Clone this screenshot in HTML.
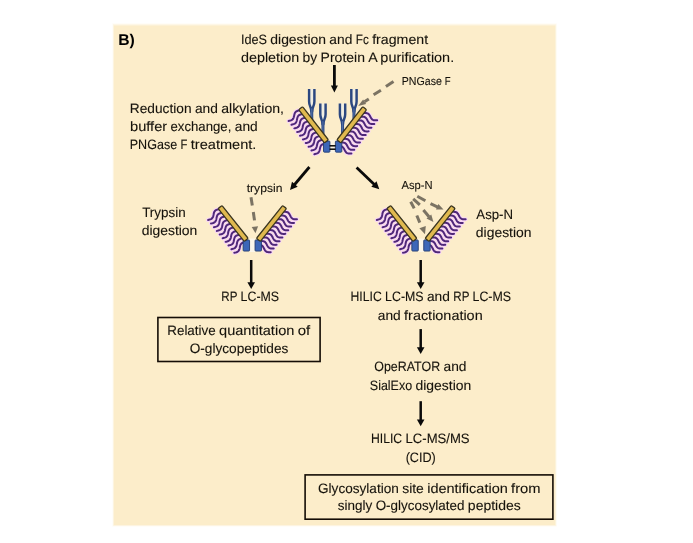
<!DOCTYPE html>
<html lang="en">
<head>
<meta charset="utf-8">
<title>Workflow B</title>
<style>
html,body{margin:0;padding:0;background:#fff;}
body{width:693px;height:543px;overflow:hidden;}
svg{display:block;font-family:"Liberation Sans",sans-serif;will-change:transform;text-rendering:geometricPrecision;}
</style>
</head>
<body>
<svg width="693" height="543" viewBox="0 0 693 543">
<rect x="0" y="0" width="693" height="543" fill="#ffffff"/>
<rect x="112.5" y="23.4" width="444.2" height="503.2" fill="#fcedca" opacity="0.22"/>
<rect x="113.1" y="24.3" width="443.0" height="501.6" fill="#fcedca" opacity="0.4"/>
<rect x="113.8" y="25.5" width="441.5" height="499.6" fill="#fcedca"/>
<g>
<text x="118.2" y="44.6" font-size="15.6" font-weight="bold" fill="#000" textLength="16.6" lengthAdjust="spacingAndGlyphs">B)</text>
<text y="44.30" font-size="13.58" font-weight="normal" fill="#15120b" stroke="#15120b" stroke-width="0.1"><tspan x="240.92" textLength="26.02" lengthAdjust="spacingAndGlyphs">IdeS</tspan> <tspan x="270.32" textLength="55.68" lengthAdjust="spacingAndGlyphs">digestion</tspan> <tspan x="329.39" textLength="22.95" lengthAdjust="spacingAndGlyphs">and</tspan> <tspan x="355.73" textLength="13.03" lengthAdjust="spacingAndGlyphs">Fc</tspan> <tspan x="372.15" textLength="55.96" lengthAdjust="spacingAndGlyphs">fragment</tspan></text>
<text y="62.20" font-size="13.58" font-weight="normal" fill="#15120b" stroke="#15120b" stroke-width="0.1"><tspan x="240.94" textLength="58.31" lengthAdjust="spacingAndGlyphs">depletion</tspan> <tspan x="302.64" textLength="14.60" lengthAdjust="spacingAndGlyphs">by</tspan> <tspan x="320.63" textLength="44.30" lengthAdjust="spacingAndGlyphs">Protein</tspan> <tspan x="368.31" textLength="8.68" lengthAdjust="spacingAndGlyphs">A</tspan> <tspan x="380.38" textLength="73.76" lengthAdjust="spacingAndGlyphs">purification.</tspan></text>
<text y="84.70" font-size="11.49" font-weight="normal" fill="#15120b" stroke="#15120b" stroke-width="0.1"><tspan x="401.76" textLength="40.14" lengthAdjust="spacingAndGlyphs">PNGase</tspan> <tspan x="444.77" textLength="5.84" lengthAdjust="spacingAndGlyphs">F</tspan></text>
<text y="113.00" font-size="13.58" font-weight="normal" fill="#15120b" stroke="#15120b" stroke-width="0.1"><tspan x="129.84" textLength="61.71" lengthAdjust="spacingAndGlyphs">Reduction</tspan> <tspan x="194.94" textLength="22.95" lengthAdjust="spacingAndGlyphs">and</tspan> <tspan x="221.28" textLength="62.73" lengthAdjust="spacingAndGlyphs">alkylation,</tspan></text>
<text y="130.70" font-size="13.58" font-weight="normal" fill="#15120b" stroke="#15120b" stroke-width="0.1"><tspan x="130.04" textLength="37.09" lengthAdjust="spacingAndGlyphs">buffer</tspan> <tspan x="170.52" textLength="60.83" lengthAdjust="spacingAndGlyphs">exchange,</tspan> <tspan x="234.74" textLength="22.95" lengthAdjust="spacingAndGlyphs">and</tspan></text>
<text y="148.60" font-size="13.58" font-weight="normal" fill="#15120b" stroke="#15120b" stroke-width="0.1"><tspan x="129.76" textLength="47.41" lengthAdjust="spacingAndGlyphs">PNGase</tspan> <tspan x="180.56" textLength="6.89" lengthAdjust="spacingAndGlyphs">F</tspan> <tspan x="190.84" textLength="65.59" lengthAdjust="spacingAndGlyphs">treatment.</tspan></text>
<text y="192.10" font-size="11.49" font-weight="normal" fill="#15120b" stroke="#15120b" stroke-width="0.1"><tspan x="246.71" textLength="35.66" lengthAdjust="spacingAndGlyphs">trypsin</tspan></text>
<text y="188.90" font-size="11.49" font-weight="normal" fill="#15120b" stroke="#15120b" stroke-width="0.1"><tspan x="401.48" textLength="31.08" lengthAdjust="spacingAndGlyphs">Asp-N</tspan></text>
<text y="217.00" font-size="13.58" font-weight="normal" fill="#15120b" stroke="#15120b" stroke-width="0.1"><tspan x="142.16" textLength="43.47" lengthAdjust="spacingAndGlyphs">Trypsin</tspan></text>
<text y="235.00" font-size="13.58" font-weight="normal" fill="#15120b" stroke="#15120b" stroke-width="0.1"><tspan x="141.65" textLength="55.68" lengthAdjust="spacingAndGlyphs">digestion</tspan></text>
<text y="219.20" font-size="13.58" font-weight="normal" fill="#15120b" stroke="#15120b" stroke-width="0.1"><tspan x="476.34" textLength="36.70" lengthAdjust="spacingAndGlyphs">Asp-N</tspan></text>
<text y="236.80" font-size="13.58" font-weight="normal" fill="#15120b" stroke="#15120b" stroke-width="0.1"><tspan x="475.85" textLength="55.68" lengthAdjust="spacingAndGlyphs">digestion</tspan></text>
<text y="301.40" font-size="13.58" font-weight="normal" fill="#15120b" stroke="#15120b" stroke-width="0.1"><tspan x="221.33" textLength="15.90" lengthAdjust="spacingAndGlyphs">RP</tspan> <tspan x="240.61" textLength="38.45" lengthAdjust="spacingAndGlyphs">LC-MS</tspan></text>
<text y="335.40" font-size="13.58" font-weight="normal" fill="#15120b" stroke="#15120b" stroke-width="0.1"><tspan x="167.28" textLength="48.39" lengthAdjust="spacingAndGlyphs">Relative</tspan> <tspan x="219.06" textLength="75.30" lengthAdjust="spacingAndGlyphs">quantitation</tspan> <tspan x="297.75" textLength="12.49" lengthAdjust="spacingAndGlyphs">of</tspan></text>
<text y="353.10" font-size="13.58" font-weight="normal" fill="#15120b" stroke="#15120b" stroke-width="0.1"><tspan x="189.71" textLength="98.59" lengthAdjust="spacingAndGlyphs">O-glycopeptides</tspan></text>
<text y="301.40" font-size="13.58" font-weight="normal" fill="#15120b" stroke="#15120b" stroke-width="0.1"><tspan x="350.51" textLength="31.21" lengthAdjust="spacingAndGlyphs">HILIC</tspan> <tspan x="385.11" textLength="38.45" lengthAdjust="spacingAndGlyphs">LC-MS</tspan> <tspan x="426.95" textLength="22.95" lengthAdjust="spacingAndGlyphs">and</tspan> <tspan x="453.29" textLength="15.90" lengthAdjust="spacingAndGlyphs">RP</tspan> <tspan x="472.58" textLength="38.45" lengthAdjust="spacingAndGlyphs">LC-MS</tspan></text>
<text y="319.50" font-size="13.58" font-weight="normal" fill="#15120b" stroke="#15120b" stroke-width="0.1"><tspan x="377.75" textLength="22.95" lengthAdjust="spacingAndGlyphs">and</tspan> <tspan x="404.09" textLength="78.59" lengthAdjust="spacingAndGlyphs">fractionation</tspan></text>
<text y="371.40" font-size="13.58" font-weight="normal" fill="#15120b" stroke="#15120b" stroke-width="0.1"><tspan x="374.25" textLength="65.89" lengthAdjust="spacingAndGlyphs">OpeRATOR</tspan> <tspan x="443.53" textLength="22.95" lengthAdjust="spacingAndGlyphs">and</tspan></text>
<text y="389.70" font-size="13.58" font-weight="normal" fill="#15120b" stroke="#15120b" stroke-width="0.1"><tspan x="369.84" textLength="42.29" lengthAdjust="spacingAndGlyphs">SialExo</tspan> <tspan x="415.52" textLength="55.68" lengthAdjust="spacingAndGlyphs">digestion</tspan></text>
<text y="443.30" font-size="13.58" font-weight="normal" fill="#15120b" stroke="#15120b" stroke-width="0.1"><tspan x="370.99" textLength="31.21" lengthAdjust="spacingAndGlyphs">HILIC</tspan> <tspan x="405.59" textLength="63.97" lengthAdjust="spacingAndGlyphs">LC-MS/MS</tspan></text>
<text y="461.60" font-size="13.58" font-weight="normal" fill="#15120b" stroke="#15120b" stroke-width="0.1"><tspan x="405.67" textLength="30.10" lengthAdjust="spacingAndGlyphs">(CID)</tspan></text>
<text y="492.50" font-size="13.58" font-weight="normal" fill="#15120b" stroke="#15120b" stroke-width="0.1"><tspan x="318.03" textLength="80.77" lengthAdjust="spacingAndGlyphs">Glycosylation</tspan> <tspan x="402.19" textLength="21.64" lengthAdjust="spacingAndGlyphs">site</tspan> <tspan x="427.21" textLength="80.54" lengthAdjust="spacingAndGlyphs">identification</tspan> <tspan x="511.14" textLength="29.46" lengthAdjust="spacingAndGlyphs">from</tspan></text>
<text y="510.10" font-size="13.58" font-weight="normal" fill="#15120b" stroke="#15120b" stroke-width="0.1"><tspan x="337.79" textLength="34.48" lengthAdjust="spacingAndGlyphs">singly</tspan> <tspan x="375.66" textLength="88.84" lengthAdjust="spacingAndGlyphs">O-glycosylated</tspan> <tspan x="467.89" textLength="52.84" lengthAdjust="spacingAndGlyphs">peptides</tspan></text>
</g>
<rect x="157.9" y="317.5" width="162.2" height="44.0" fill="none" stroke="#140d06" stroke-width="1.6"/>
<rect x="305.1" y="474.9" width="247.8" height="44.3" fill="none" stroke="#140d06" stroke-width="1.6"/>
<line x1="334.4" y1="65.0" x2="334.4" y2="86.6" stroke="#0a0a0a" stroke-width="2.8"/><polygon points="334.4,92.6 330.9,85.6 337.9,85.6" fill="#0a0a0a"/>
<line x1="309.4" y1="167.0" x2="294.2" y2="185.0" stroke="#0a0a0a" stroke-width="2.8"/><polygon points="290.0,190.0 292.0,181.8 297.7,186.7" fill="#0a0a0a"/>
<line x1="356.6" y1="167.4" x2="374.6" y2="184.7" stroke="#0a0a0a" stroke-width="2.8"/><polygon points="379.3,189.2 371.3,186.7 376.5,181.3" fill="#0a0a0a"/>
<line x1="251.2" y1="260.0" x2="251.2" y2="283.2" stroke="#0a0a0a" stroke-width="2.5"/><polygon points="251.2,289.0 247.4,282.2 255.0,282.2" fill="#0a0a0a"/>
<line x1="420.7" y1="260.0" x2="420.7" y2="283.2" stroke="#0a0a0a" stroke-width="2.5"/><polygon points="420.7,289.0 416.9,282.2 424.5,282.2" fill="#0a0a0a"/>
<line x1="420.7" y1="329.1" x2="420.7" y2="348.3" stroke="#0a0a0a" stroke-width="2.5"/><polygon points="420.7,354.1 416.9,347.3 424.5,347.3" fill="#0a0a0a"/>
<line x1="420.7" y1="401.2" x2="420.7" y2="420.5" stroke="#0a0a0a" stroke-width="2.5"/><polygon points="420.7,426.3 416.9,419.5 424.5,419.5" fill="#0a0a0a"/>
<path d="M309.10,89.10 L309.10,101.40 C309.10,106.40 311.35,106.40 311.35,111.40 L312.15,111.40 C312.15,106.40 314.40,106.40 314.40,101.40 L314.40,89.10 Z" fill="#f1eee2" stroke="none"/><path d="M309.10,89.10 L309.10,101.40 C309.10,106.40 311.35,106.40 311.35,111.40 L312.15,111.40 C312.15,106.40 314.40,106.40 314.40,101.40 L314.40,89.10" fill="none" stroke="#2b4780" stroke-width="2.45" stroke-linecap="butt" stroke-linejoin="round"/><path d="M311.75,108.40 L311.75,120.60" fill="none" stroke="#2c4a86" stroke-width="3.0"/><path d="M311.75,108.40 L311.75,120.60" fill="none" stroke="#6f8cc0" stroke-width="0.6"/><path d="M320.30,103.60 L320.30,114.20 C320.30,119.20 322.55,119.20 322.55,124.20 L323.35,124.20 C323.35,119.20 325.60,119.20 325.60,114.20 L325.60,103.60 Z" fill="#f1eee2" stroke="none"/><path d="M320.30,103.60 L320.30,114.20 C320.30,119.20 322.55,119.20 322.55,124.20 L323.35,124.20 C323.35,119.20 325.60,119.20 325.60,114.20 L325.60,103.60" fill="none" stroke="#2b4780" stroke-width="2.45" stroke-linecap="butt" stroke-linejoin="round"/><path d="M322.95,121.20 L322.95,134.60" fill="none" stroke="#2c4a86" stroke-width="3.0"/><path d="M322.95,121.20 L322.95,134.60" fill="none" stroke="#6f8cc0" stroke-width="0.6"/><path d="M339.90,103.60 L339.90,114.20 C339.90,119.20 342.15,119.20 342.15,124.20 L342.95,124.20 C342.95,119.20 345.20,119.20 345.20,114.20 L345.20,103.60 Z" fill="#f1eee2" stroke="none"/><path d="M339.90,103.60 L339.90,114.20 C339.90,119.20 342.15,119.20 342.15,124.20 L342.95,124.20 C342.95,119.20 345.20,119.20 345.20,114.20 L345.20,103.60" fill="none" stroke="#2b4780" stroke-width="2.45" stroke-linecap="butt" stroke-linejoin="round"/><path d="M342.55,121.20 L342.55,134.60" fill="none" stroke="#2c4a86" stroke-width="3.0"/><path d="M342.55,121.20 L342.55,134.60" fill="none" stroke="#6f8cc0" stroke-width="0.6"/><path d="M351.30,89.10 L351.30,101.40 C351.30,106.40 353.55,106.40 353.55,111.40 L354.35,111.40 C354.35,106.40 356.60,106.40 356.60,101.40 L356.60,89.10 Z" fill="#f1eee2" stroke="none"/><path d="M351.30,89.10 L351.30,101.40 C351.30,106.40 353.55,106.40 353.55,111.40 L354.35,111.40 C354.35,106.40 356.60,106.40 356.60,101.40 L356.60,89.10" fill="none" stroke="#2b4780" stroke-width="2.45" stroke-linecap="butt" stroke-linejoin="round"/><path d="M353.95,108.40 L353.95,120.60" fill="none" stroke="#2c4a86" stroke-width="3.0"/><path d="M353.95,108.40 L353.95,120.60" fill="none" stroke="#6f8cc0" stroke-width="0.6"/><rect x="330.0" y="139.6" width="5.2" height="13.5" fill="#fbf4e2"/><g fill="none" stroke="#f8d6f7" stroke-width="4.1" stroke-linecap="round"><path d="M324.98,143.61 L324.25,143.78 L323.55,143.97 L322.89,144.20 L322.29,144.48 L321.75,144.83 L321.29,145.26 L320.90,145.75 L320.59,146.33 L320.35,146.96 L320.16,147.64 L320.00,148.36 L319.85,149.09 L319.69,149.81 L319.51,150.50 L319.28,151.15 L319.00,151.75 L318.64,152.27 L318.20,152.71 L317.68,153.08 L317.10,153.39 L316.45,153.63 L315.76,153.83 L315.04,154.00 L314.32,154.17"/><path d="M322.12,139.92 L321.39,140.09 L320.69,140.28 L320.03,140.51 L319.42,140.79 L318.89,141.14 L318.43,141.57 L318.04,142.07 L317.73,142.64 L317.49,143.27 L317.30,143.95 L317.13,144.67 L316.99,145.40 L316.83,146.12 L316.65,146.82 L316.42,147.47 L316.13,148.06 L315.77,148.58 L315.34,149.02 L314.82,149.40 L314.24,149.70 L313.59,149.94 L312.90,150.14 L312.18,150.31 L311.46,150.48"/><path d="M319.25,136.23 L318.53,136.40 L317.83,136.59 L317.17,136.82 L316.56,137.11 L316.03,137.45 L315.57,137.88 L315.18,138.38 L314.87,138.95 L314.63,139.58 L314.43,140.26 L314.27,140.98 L314.13,141.71 L313.97,142.43 L313.79,143.13 L313.56,143.78 L313.27,144.37 L312.91,144.89 L312.48,145.33 L311.96,145.71 L311.38,146.01 L310.73,146.25 L310.04,146.45 L309.32,146.62 L308.59,146.79"/><path d="M316.39,132.55 L315.67,132.72 L314.97,132.90 L314.31,133.13 L313.70,133.42 L313.17,133.77 L312.70,134.19 L312.32,134.69 L312.01,135.26 L311.77,135.89 L311.57,136.58 L311.41,137.29 L311.27,138.02 L311.11,138.74 L310.93,139.44 L310.70,140.09 L310.41,140.68 L310.05,141.20 L309.61,141.65 L309.10,142.02 L308.51,142.32 L307.87,142.56 L307.18,142.76 L306.46,142.94 L305.73,143.10"/><path d="M313.53,128.86 L312.81,129.03 L312.11,129.22 L311.45,129.44 L310.84,129.73 L310.30,130.08 L309.84,130.50 L309.46,131.00 L309.15,131.57 L308.91,132.20 L308.71,132.89 L308.55,133.60 L308.40,134.33 L308.25,135.05 L308.07,135.75 L307.84,136.40 L307.55,136.99 L307.19,137.51 L306.75,137.96 L306.24,138.33 L305.65,138.63 L305.01,138.87 L304.32,139.07 L303.60,139.25 L302.87,139.41"/><path d="M310.67,125.17 L309.95,125.34 L309.25,125.53 L308.59,125.76 L307.98,126.04 L307.44,126.39 L306.98,126.81 L306.60,127.31 L306.29,127.88 L306.04,128.51 L305.85,129.20 L305.69,129.91 L305.54,130.64 L305.39,131.36 L305.21,132.06 L304.98,132.71 L304.69,133.30 L304.33,133.82 L303.89,134.27 L303.38,134.64 L302.79,134.94 L302.15,135.18 L301.45,135.38 L300.74,135.56 L300.01,135.73"/><path d="M307.81,121.48 L307.09,121.65 L306.39,121.84 L305.72,122.07 L305.12,122.35 L304.58,122.70 L304.12,123.12 L303.74,123.62 L303.43,124.19 L303.18,124.83 L302.99,125.51 L302.83,126.23 L302.68,126.95 L302.53,127.68 L302.35,128.37 L302.12,129.02 L301.83,129.61 L301.47,130.13 L301.03,130.58 L300.52,130.95 L299.93,131.25 L299.28,131.50 L298.59,131.70 L297.87,131.87 L297.15,132.04"/><path d="M304.95,117.79 L304.23,117.96 L303.53,118.15 L302.86,118.38 L302.26,118.66 L301.72,119.01 L301.26,119.43 L300.88,119.93 L300.57,120.50 L300.32,121.14 L300.13,121.82 L299.97,122.54 L299.82,123.27 L299.67,123.99 L299.48,124.68 L299.26,125.33 L298.97,125.92 L298.61,126.44 L298.17,126.89 L297.66,127.26 L297.07,127.56 L296.42,127.81 L295.73,128.01 L295.01,128.18 L294.29,128.35"/><path d="M302.09,114.10 L301.37,114.27 L300.66,114.46 L300.00,114.69 L299.40,114.97 L298.86,115.32 L298.40,115.74 L298.02,116.24 L297.71,116.81 L297.46,117.45 L297.27,118.13 L297.11,118.85 L296.96,119.58 L296.81,120.30 L296.62,120.99 L296.40,121.64 L296.11,122.23 L295.75,122.76 L295.31,123.20 L294.79,123.57 L294.21,123.87 L293.56,124.12 L292.87,124.32 L292.15,124.49 L291.43,124.66"/><path d="M299.23,110.41 L298.50,110.58 L297.80,110.77 L297.14,111.00 L296.54,111.28 L296.00,111.63 L295.54,112.06 L295.15,112.55 L294.84,113.13 L294.60,113.76 L294.41,114.44 L294.25,115.16 L294.10,115.89 L293.94,116.61 L293.76,117.30 L293.53,117.95 L293.25,118.55 L292.89,119.07 L292.45,119.51 L291.93,119.88 L291.35,120.19 L290.70,120.43 L290.01,120.63 L289.29,120.80 L288.57,120.97"/></g><g fill="none" stroke="#4f2878" stroke-width="2.0" stroke-linecap="round"><path d="M324.98,143.61 L324.25,143.78 L323.55,143.97 L322.89,144.20 L322.29,144.48 L321.75,144.83 L321.29,145.26 L320.90,145.75 L320.59,146.33 L320.35,146.96 L320.16,147.64 L320.00,148.36 L319.85,149.09 L319.69,149.81 L319.51,150.50 L319.28,151.15 L319.00,151.75 L318.64,152.27 L318.20,152.71 L317.68,153.08 L317.10,153.39 L316.45,153.63 L315.76,153.83 L315.04,154.00 L314.32,154.17"/><path d="M322.12,139.92 L321.39,140.09 L320.69,140.28 L320.03,140.51 L319.42,140.79 L318.89,141.14 L318.43,141.57 L318.04,142.07 L317.73,142.64 L317.49,143.27 L317.30,143.95 L317.13,144.67 L316.99,145.40 L316.83,146.12 L316.65,146.82 L316.42,147.47 L316.13,148.06 L315.77,148.58 L315.34,149.02 L314.82,149.40 L314.24,149.70 L313.59,149.94 L312.90,150.14 L312.18,150.31 L311.46,150.48"/><path d="M319.25,136.23 L318.53,136.40 L317.83,136.59 L317.17,136.82 L316.56,137.11 L316.03,137.45 L315.57,137.88 L315.18,138.38 L314.87,138.95 L314.63,139.58 L314.43,140.26 L314.27,140.98 L314.13,141.71 L313.97,142.43 L313.79,143.13 L313.56,143.78 L313.27,144.37 L312.91,144.89 L312.48,145.33 L311.96,145.71 L311.38,146.01 L310.73,146.25 L310.04,146.45 L309.32,146.62 L308.59,146.79"/><path d="M316.39,132.55 L315.67,132.72 L314.97,132.90 L314.31,133.13 L313.70,133.42 L313.17,133.77 L312.70,134.19 L312.32,134.69 L312.01,135.26 L311.77,135.89 L311.57,136.58 L311.41,137.29 L311.27,138.02 L311.11,138.74 L310.93,139.44 L310.70,140.09 L310.41,140.68 L310.05,141.20 L309.61,141.65 L309.10,142.02 L308.51,142.32 L307.87,142.56 L307.18,142.76 L306.46,142.94 L305.73,143.10"/><path d="M313.53,128.86 L312.81,129.03 L312.11,129.22 L311.45,129.44 L310.84,129.73 L310.30,130.08 L309.84,130.50 L309.46,131.00 L309.15,131.57 L308.91,132.20 L308.71,132.89 L308.55,133.60 L308.40,134.33 L308.25,135.05 L308.07,135.75 L307.84,136.40 L307.55,136.99 L307.19,137.51 L306.75,137.96 L306.24,138.33 L305.65,138.63 L305.01,138.87 L304.32,139.07 L303.60,139.25 L302.87,139.41"/><path d="M310.67,125.17 L309.95,125.34 L309.25,125.53 L308.59,125.76 L307.98,126.04 L307.44,126.39 L306.98,126.81 L306.60,127.31 L306.29,127.88 L306.04,128.51 L305.85,129.20 L305.69,129.91 L305.54,130.64 L305.39,131.36 L305.21,132.06 L304.98,132.71 L304.69,133.30 L304.33,133.82 L303.89,134.27 L303.38,134.64 L302.79,134.94 L302.15,135.18 L301.45,135.38 L300.74,135.56 L300.01,135.73"/><path d="M307.81,121.48 L307.09,121.65 L306.39,121.84 L305.72,122.07 L305.12,122.35 L304.58,122.70 L304.12,123.12 L303.74,123.62 L303.43,124.19 L303.18,124.83 L302.99,125.51 L302.83,126.23 L302.68,126.95 L302.53,127.68 L302.35,128.37 L302.12,129.02 L301.83,129.61 L301.47,130.13 L301.03,130.58 L300.52,130.95 L299.93,131.25 L299.28,131.50 L298.59,131.70 L297.87,131.87 L297.15,132.04"/><path d="M304.95,117.79 L304.23,117.96 L303.53,118.15 L302.86,118.38 L302.26,118.66 L301.72,119.01 L301.26,119.43 L300.88,119.93 L300.57,120.50 L300.32,121.14 L300.13,121.82 L299.97,122.54 L299.82,123.27 L299.67,123.99 L299.48,124.68 L299.26,125.33 L298.97,125.92 L298.61,126.44 L298.17,126.89 L297.66,127.26 L297.07,127.56 L296.42,127.81 L295.73,128.01 L295.01,128.18 L294.29,128.35"/><path d="M302.09,114.10 L301.37,114.27 L300.66,114.46 L300.00,114.69 L299.40,114.97 L298.86,115.32 L298.40,115.74 L298.02,116.24 L297.71,116.81 L297.46,117.45 L297.27,118.13 L297.11,118.85 L296.96,119.58 L296.81,120.30 L296.62,120.99 L296.40,121.64 L296.11,122.23 L295.75,122.76 L295.31,123.20 L294.79,123.57 L294.21,123.87 L293.56,124.12 L292.87,124.32 L292.15,124.49 L291.43,124.66"/><path d="M299.23,110.41 L298.50,110.58 L297.80,110.77 L297.14,111.00 L296.54,111.28 L296.00,111.63 L295.54,112.06 L295.15,112.55 L294.84,113.13 L294.60,113.76 L294.41,114.44 L294.25,115.16 L294.10,115.89 L293.94,116.61 L293.76,117.30 L293.53,117.95 L293.25,118.55 L292.89,119.07 L292.45,119.51 L291.93,119.88 L291.35,120.19 L290.70,120.43 L290.01,120.63 L289.29,120.80 L288.57,120.97"/></g><g fill="none" stroke="#f8d6f7" stroke-width="4.1" stroke-linecap="round"><path d="M338.26,146.27 L339.00,146.23 L339.73,146.22 L340.43,146.26 L341.09,146.36 L341.70,146.55 L342.26,146.83 L342.77,147.21 L343.22,147.67 L343.63,148.21 L344.01,148.81 L344.36,149.46 L344.70,150.12 L345.05,150.77 L345.42,151.39 L345.81,151.95 L346.25,152.44 L346.74,152.84 L347.29,153.15 L347.89,153.36 L348.53,153.49 L349.22,153.55 L349.94,153.55 L350.68,153.52 L351.42,153.48"/><path d="M341.12,142.58 L341.87,142.54 L342.59,142.53 L343.29,142.57 L343.95,142.67 L344.56,142.86 L345.12,143.14 L345.63,143.52 L346.08,143.98 L346.49,144.52 L346.87,145.12 L347.22,145.77 L347.56,146.43 L347.91,147.08 L348.28,147.70 L348.67,148.26 L349.12,148.75 L349.61,149.15 L350.15,149.46 L350.75,149.67 L351.39,149.80 L352.08,149.86 L352.80,149.86 L353.54,149.83 L354.28,149.79"/><path d="M343.99,138.89 L344.73,138.85 L345.45,138.84 L346.15,138.88 L346.81,138.99 L347.42,139.17 L347.98,139.45 L348.49,139.83 L348.95,140.29 L349.36,140.83 L349.73,141.44 L350.08,142.08 L350.42,142.74 L350.77,143.39 L351.14,144.01 L351.54,144.57 L351.98,145.06 L352.47,145.46 L353.01,145.77 L353.61,145.98 L354.25,146.11 L354.94,146.17 L355.66,146.17 L356.40,146.14 L357.14,146.10"/><path d="M346.85,135.20 L347.59,135.17 L348.31,135.15 L349.01,135.19 L349.67,135.30 L350.29,135.48 L350.85,135.76 L351.35,136.14 L351.81,136.60 L352.22,137.14 L352.59,137.75 L352.94,138.39 L353.29,139.05 L353.63,139.70 L354.00,140.32 L354.40,140.88 L354.84,141.37 L355.33,141.77 L355.87,142.08 L356.47,142.30 L357.11,142.42 L357.80,142.48 L358.52,142.48 L359.26,142.45 L360.00,142.41"/><path d="M349.71,131.51 L350.45,131.48 L351.18,131.47 L351.87,131.50 L352.53,131.61 L353.15,131.80 L353.71,132.08 L354.21,132.45 L354.67,132.91 L355.08,133.45 L355.45,134.06 L355.80,134.70 L356.15,135.36 L356.49,136.01 L356.86,136.63 L357.26,137.19 L357.70,137.68 L358.19,138.08 L358.73,138.39 L359.33,138.61 L359.98,138.74 L360.66,138.79 L361.38,138.79 L362.12,138.76 L362.86,138.72"/><path d="M352.57,127.82 L353.31,127.79 L354.04,127.78 L354.74,127.81 L355.40,127.92 L356.01,128.11 L356.57,128.39 L357.07,128.76 L357.53,129.22 L357.94,129.77 L358.31,130.37 L358.67,131.01 L359.01,131.67 L359.35,132.32 L359.72,132.94 L360.12,133.50 L360.56,133.99 L361.05,134.39 L361.59,134.70 L362.19,134.92 L362.84,135.05 L363.53,135.10 L364.24,135.10 L364.98,135.07 L365.73,135.03"/><path d="M355.43,124.13 L356.17,124.10 L356.90,124.09 L357.60,124.12 L358.26,124.23 L358.87,124.42 L359.43,124.70 L359.93,125.07 L360.39,125.54 L360.80,126.08 L361.17,126.68 L361.53,127.32 L361.87,127.98 L362.22,128.64 L362.58,129.25 L362.98,129.82 L363.42,130.30 L363.91,130.71 L364.45,131.01 L365.05,131.23 L365.70,131.36 L366.39,131.41 L367.11,131.42 L367.84,131.38 L368.59,131.35"/><path d="M358.29,120.45 L359.03,120.41 L359.76,120.40 L360.46,120.44 L361.12,120.54 L361.73,120.73 L362.29,121.01 L362.80,121.38 L363.25,121.85 L363.66,122.39 L364.04,122.99 L364.39,123.64 L364.73,124.30 L365.08,124.95 L365.44,125.56 L365.84,126.13 L366.28,126.62 L366.77,127.02 L367.32,127.33 L367.91,127.54 L368.56,127.67 L369.25,127.73 L369.97,127.73 L370.71,127.70 L371.45,127.66"/><path d="M361.15,116.76 L361.89,116.72 L362.62,116.71 L363.32,116.75 L363.98,116.85 L364.59,117.04 L365.15,117.32 L365.66,117.69 L366.11,118.16 L366.52,118.70 L366.90,119.30 L367.25,119.95 L367.59,120.61 L367.94,121.26 L368.30,121.88 L368.70,122.44 L369.14,122.93 L369.63,123.33 L370.18,123.64 L370.77,123.85 L371.42,123.98 L372.11,124.04 L372.83,124.04 L373.57,124.01 L374.31,123.97"/><path d="M364.01,113.07 L364.75,113.03 L365.48,113.02 L366.18,113.06 L366.84,113.16 L367.45,113.35 L368.01,113.63 L368.52,114.01 L368.97,114.47 L369.38,115.01 L369.76,115.61 L370.11,116.26 L370.45,116.92 L370.80,117.57 L371.17,118.19 L371.56,118.75 L372.00,119.24 L372.49,119.64 L373.04,119.95 L373.64,120.16 L374.28,120.29 L374.97,120.35 L375.69,120.35 L376.43,120.32 L377.17,120.28"/></g><g fill="none" stroke="#4f2878" stroke-width="2.0" stroke-linecap="round"><path d="M338.26,146.27 L339.00,146.23 L339.73,146.22 L340.43,146.26 L341.09,146.36 L341.70,146.55 L342.26,146.83 L342.77,147.21 L343.22,147.67 L343.63,148.21 L344.01,148.81 L344.36,149.46 L344.70,150.12 L345.05,150.77 L345.42,151.39 L345.81,151.95 L346.25,152.44 L346.74,152.84 L347.29,153.15 L347.89,153.36 L348.53,153.49 L349.22,153.55 L349.94,153.55 L350.68,153.52 L351.42,153.48"/><path d="M341.12,142.58 L341.87,142.54 L342.59,142.53 L343.29,142.57 L343.95,142.67 L344.56,142.86 L345.12,143.14 L345.63,143.52 L346.08,143.98 L346.49,144.52 L346.87,145.12 L347.22,145.77 L347.56,146.43 L347.91,147.08 L348.28,147.70 L348.67,148.26 L349.12,148.75 L349.61,149.15 L350.15,149.46 L350.75,149.67 L351.39,149.80 L352.08,149.86 L352.80,149.86 L353.54,149.83 L354.28,149.79"/><path d="M343.99,138.89 L344.73,138.85 L345.45,138.84 L346.15,138.88 L346.81,138.99 L347.42,139.17 L347.98,139.45 L348.49,139.83 L348.95,140.29 L349.36,140.83 L349.73,141.44 L350.08,142.08 L350.42,142.74 L350.77,143.39 L351.14,144.01 L351.54,144.57 L351.98,145.06 L352.47,145.46 L353.01,145.77 L353.61,145.98 L354.25,146.11 L354.94,146.17 L355.66,146.17 L356.40,146.14 L357.14,146.10"/><path d="M346.85,135.20 L347.59,135.17 L348.31,135.15 L349.01,135.19 L349.67,135.30 L350.29,135.48 L350.85,135.76 L351.35,136.14 L351.81,136.60 L352.22,137.14 L352.59,137.75 L352.94,138.39 L353.29,139.05 L353.63,139.70 L354.00,140.32 L354.40,140.88 L354.84,141.37 L355.33,141.77 L355.87,142.08 L356.47,142.30 L357.11,142.42 L357.80,142.48 L358.52,142.48 L359.26,142.45 L360.00,142.41"/><path d="M349.71,131.51 L350.45,131.48 L351.18,131.47 L351.87,131.50 L352.53,131.61 L353.15,131.80 L353.71,132.08 L354.21,132.45 L354.67,132.91 L355.08,133.45 L355.45,134.06 L355.80,134.70 L356.15,135.36 L356.49,136.01 L356.86,136.63 L357.26,137.19 L357.70,137.68 L358.19,138.08 L358.73,138.39 L359.33,138.61 L359.98,138.74 L360.66,138.79 L361.38,138.79 L362.12,138.76 L362.86,138.72"/><path d="M352.57,127.82 L353.31,127.79 L354.04,127.78 L354.74,127.81 L355.40,127.92 L356.01,128.11 L356.57,128.39 L357.07,128.76 L357.53,129.22 L357.94,129.77 L358.31,130.37 L358.67,131.01 L359.01,131.67 L359.35,132.32 L359.72,132.94 L360.12,133.50 L360.56,133.99 L361.05,134.39 L361.59,134.70 L362.19,134.92 L362.84,135.05 L363.53,135.10 L364.24,135.10 L364.98,135.07 L365.73,135.03"/><path d="M355.43,124.13 L356.17,124.10 L356.90,124.09 L357.60,124.12 L358.26,124.23 L358.87,124.42 L359.43,124.70 L359.93,125.07 L360.39,125.54 L360.80,126.08 L361.17,126.68 L361.53,127.32 L361.87,127.98 L362.22,128.64 L362.58,129.25 L362.98,129.82 L363.42,130.30 L363.91,130.71 L364.45,131.01 L365.05,131.23 L365.70,131.36 L366.39,131.41 L367.11,131.42 L367.84,131.38 L368.59,131.35"/><path d="M358.29,120.45 L359.03,120.41 L359.76,120.40 L360.46,120.44 L361.12,120.54 L361.73,120.73 L362.29,121.01 L362.80,121.38 L363.25,121.85 L363.66,122.39 L364.04,122.99 L364.39,123.64 L364.73,124.30 L365.08,124.95 L365.44,125.56 L365.84,126.13 L366.28,126.62 L366.77,127.02 L367.32,127.33 L367.91,127.54 L368.56,127.67 L369.25,127.73 L369.97,127.73 L370.71,127.70 L371.45,127.66"/><path d="M361.15,116.76 L361.89,116.72 L362.62,116.71 L363.32,116.75 L363.98,116.85 L364.59,117.04 L365.15,117.32 L365.66,117.69 L366.11,118.16 L366.52,118.70 L366.90,119.30 L367.25,119.95 L367.59,120.61 L367.94,121.26 L368.30,121.88 L368.70,122.44 L369.14,122.93 L369.63,123.33 L370.18,123.64 L370.77,123.85 L371.42,123.98 L372.11,124.04 L372.83,124.04 L373.57,124.01 L374.31,123.97"/><path d="M364.01,113.07 L364.75,113.03 L365.48,113.02 L366.18,113.06 L366.84,113.16 L367.45,113.35 L368.01,113.63 L368.52,114.01 L368.97,114.47 L369.38,115.01 L369.76,115.61 L370.11,116.26 L370.45,116.92 L370.80,117.57 L371.17,118.19 L371.56,118.75 L372.00,119.24 L372.49,119.64 L373.04,119.95 L373.64,120.16 L374.28,120.29 L374.97,120.35 L375.69,120.35 L376.43,120.32 L377.17,120.28"/></g><rect x="323.50" y="141.05" width="6.40" height="11.10" rx="0.8" fill="#3d67b8" stroke="#223c74" stroke-width="0.9"/><rect x="335.40" y="141.05" width="6.40" height="11.10" rx="0.8" fill="#3d67b8" stroke="#223c74" stroke-width="0.9"/><line x1="329.6" y1="145.8" x2="335.6" y2="145.8" stroke="#050505" stroke-width="1.5"/><line x1="329.6" y1="149.2" x2="335.6" y2="149.2" stroke="#050505" stroke-width="1.5"/><rect x="0" y="-2.50" width="42.02" height="5.00" rx="1.1" fill="#e0b94f" stroke="#3a3520" stroke-width="1.3" transform="translate(326.44 141.42) rotate(-127.80)"/><rect x="0" y="-2.50" width="42.02" height="5.00" rx="1.1" fill="#e0b94f" stroke="#3a3520" stroke-width="1.3" transform="translate(338.86 141.42) rotate(-52.20)"/>
<rect x="249.7" y="238.5" width="5.2" height="13.5" fill="#fbf6ea"/><g fill="none" stroke="#f8d6f7" stroke-width="4.1" stroke-linecap="round"><path d="M244.80,242.13 L244.08,242.31 L243.38,242.51 L242.73,242.74 L242.12,243.03 L241.59,243.39 L241.14,243.82 L240.76,244.32 L240.46,244.90 L240.22,245.53 L240.03,246.22 L239.88,246.94 L239.75,247.67 L239.60,248.39 L239.43,249.09 L239.21,249.74 L238.93,250.34 L238.57,250.86 L238.14,251.31 L237.63,251.69 L237.05,252.00 L236.41,252.25 L235.72,252.46 L235.00,252.64 L234.28,252.82"/><path d="M241.89,238.47 L241.17,238.65 L240.47,238.85 L239.81,239.09 L239.21,239.38 L238.68,239.73 L238.22,240.16 L237.85,240.67 L237.55,241.24 L237.31,241.88 L237.12,242.56 L236.97,243.28 L236.83,244.01 L236.69,244.74 L236.52,245.43 L236.30,246.09 L236.02,246.68 L235.66,247.21 L235.23,247.66 L234.72,248.04 L234.14,248.35 L233.50,248.60 L232.81,248.81 L232.09,248.99 L231.37,249.17"/><path d="M238.98,234.82 L238.26,235.00 L237.56,235.19 L236.90,235.43 L236.30,235.72 L235.77,236.08 L235.31,236.51 L234.94,237.01 L234.63,237.59 L234.40,238.22 L234.21,238.91 L234.06,239.63 L233.92,240.36 L233.78,241.08 L233.61,241.78 L233.39,242.43 L233.10,243.03 L232.75,243.55 L232.32,244.00 L231.81,244.38 L231.23,244.69 L230.58,244.94 L229.90,245.15 L229.18,245.33 L228.46,245.51"/><path d="M236.07,231.16 L235.35,231.34 L234.65,231.54 L233.99,231.78 L233.39,232.07 L232.86,232.42 L232.40,232.85 L232.03,233.36 L231.72,233.93 L231.49,234.57 L231.30,235.25 L231.15,235.97 L231.01,236.70 L230.87,237.43 L230.69,238.12 L230.48,238.78 L230.19,239.37 L229.84,239.90 L229.41,240.35 L228.90,240.73 L228.32,241.04 L227.67,241.29 L226.98,241.50 L226.27,241.68 L225.55,241.85"/><path d="M233.16,227.51 L232.44,227.68 L231.74,227.88 L231.08,228.12 L230.48,228.41 L229.95,228.77 L229.49,229.20 L229.11,229.70 L228.81,230.28 L228.58,230.91 L228.39,231.60 L228.24,232.32 L228.10,233.05 L227.96,233.77 L227.78,234.47 L227.56,235.12 L227.28,235.72 L226.93,236.24 L226.50,236.69 L225.99,237.07 L225.41,237.38 L224.76,237.63 L224.07,237.84 L223.36,238.02 L222.64,238.20"/><path d="M230.25,223.85 L229.53,224.03 L228.83,224.23 L228.17,224.46 L227.57,224.76 L227.04,225.11 L226.58,225.54 L226.20,226.05 L225.90,226.62 L225.66,227.26 L225.48,227.94 L225.33,228.66 L225.19,229.39 L225.05,230.11 L224.87,230.81 L224.65,231.47 L224.37,232.06 L224.02,232.59 L223.59,233.04 L223.08,233.42 L222.49,233.72 L221.85,233.98 L221.16,234.18 L220.45,234.37 L219.72,234.54"/><path d="M227.34,220.20 L226.62,220.37 L225.92,220.57 L225.26,220.81 L224.66,221.10 L224.12,221.46 L223.67,221.89 L223.29,222.39 L222.99,222.96 L222.75,223.60 L222.57,224.29 L222.42,225.00 L222.28,225.74 L222.13,226.46 L221.96,227.16 L221.74,227.81 L221.46,228.40 L221.11,228.93 L220.67,229.38 L220.16,229.76 L219.58,230.07 L218.94,230.32 L218.25,230.53 L217.54,230.71 L216.81,230.89"/><path d="M224.43,216.54 L223.71,216.72 L223.01,216.92 L222.35,217.15 L221.75,217.44 L221.21,217.80 L220.76,218.23 L220.38,218.73 L220.08,219.31 L219.84,219.95 L219.66,220.63 L219.51,221.35 L219.37,222.08 L219.22,222.80 L219.05,223.50 L218.83,224.15 L218.55,224.75 L218.20,225.27 L217.76,225.73 L217.25,226.10 L216.67,226.41 L216.03,226.67 L215.34,226.87 L214.62,227.06 L213.90,227.23"/><path d="M221.51,212.88 L220.79,213.06 L220.10,213.26 L219.44,213.50 L218.83,213.79 L218.30,214.15 L217.85,214.57 L217.47,215.08 L217.17,215.65 L216.93,216.29 L216.75,216.98 L216.59,217.69 L216.46,218.42 L216.31,219.15 L216.14,219.85 L215.92,220.50 L215.64,221.09 L215.28,221.62 L214.85,222.07 L214.34,222.45 L213.76,222.76 L213.12,223.01 L212.43,223.22 L211.71,223.40 L210.99,223.58"/><path d="M218.60,209.23 L217.88,209.41 L217.18,209.61 L216.53,209.84 L215.92,210.13 L215.39,210.49 L214.94,210.92 L214.56,211.42 L214.26,212.00 L214.02,212.63 L213.83,213.32 L213.68,214.04 L213.55,214.77 L213.40,215.49 L213.23,216.19 L213.01,216.84 L212.73,217.44 L212.37,217.96 L211.94,218.41 L211.43,218.79 L210.85,219.10 L210.21,219.35 L209.52,219.56 L208.80,219.74 L208.08,219.92"/></g><g fill="none" stroke="#4f2878" stroke-width="2.0" stroke-linecap="round"><path d="M244.80,242.13 L244.08,242.31 L243.38,242.51 L242.73,242.74 L242.12,243.03 L241.59,243.39 L241.14,243.82 L240.76,244.32 L240.46,244.90 L240.22,245.53 L240.03,246.22 L239.88,246.94 L239.75,247.67 L239.60,248.39 L239.43,249.09 L239.21,249.74 L238.93,250.34 L238.57,250.86 L238.14,251.31 L237.63,251.69 L237.05,252.00 L236.41,252.25 L235.72,252.46 L235.00,252.64 L234.28,252.82"/><path d="M241.89,238.47 L241.17,238.65 L240.47,238.85 L239.81,239.09 L239.21,239.38 L238.68,239.73 L238.22,240.16 L237.85,240.67 L237.55,241.24 L237.31,241.88 L237.12,242.56 L236.97,243.28 L236.83,244.01 L236.69,244.74 L236.52,245.43 L236.30,246.09 L236.02,246.68 L235.66,247.21 L235.23,247.66 L234.72,248.04 L234.14,248.35 L233.50,248.60 L232.81,248.81 L232.09,248.99 L231.37,249.17"/><path d="M238.98,234.82 L238.26,235.00 L237.56,235.19 L236.90,235.43 L236.30,235.72 L235.77,236.08 L235.31,236.51 L234.94,237.01 L234.63,237.59 L234.40,238.22 L234.21,238.91 L234.06,239.63 L233.92,240.36 L233.78,241.08 L233.61,241.78 L233.39,242.43 L233.10,243.03 L232.75,243.55 L232.32,244.00 L231.81,244.38 L231.23,244.69 L230.58,244.94 L229.90,245.15 L229.18,245.33 L228.46,245.51"/><path d="M236.07,231.16 L235.35,231.34 L234.65,231.54 L233.99,231.78 L233.39,232.07 L232.86,232.42 L232.40,232.85 L232.03,233.36 L231.72,233.93 L231.49,234.57 L231.30,235.25 L231.15,235.97 L231.01,236.70 L230.87,237.43 L230.69,238.12 L230.48,238.78 L230.19,239.37 L229.84,239.90 L229.41,240.35 L228.90,240.73 L228.32,241.04 L227.67,241.29 L226.98,241.50 L226.27,241.68 L225.55,241.85"/><path d="M233.16,227.51 L232.44,227.68 L231.74,227.88 L231.08,228.12 L230.48,228.41 L229.95,228.77 L229.49,229.20 L229.11,229.70 L228.81,230.28 L228.58,230.91 L228.39,231.60 L228.24,232.32 L228.10,233.05 L227.96,233.77 L227.78,234.47 L227.56,235.12 L227.28,235.72 L226.93,236.24 L226.50,236.69 L225.99,237.07 L225.41,237.38 L224.76,237.63 L224.07,237.84 L223.36,238.02 L222.64,238.20"/><path d="M230.25,223.85 L229.53,224.03 L228.83,224.23 L228.17,224.46 L227.57,224.76 L227.04,225.11 L226.58,225.54 L226.20,226.05 L225.90,226.62 L225.66,227.26 L225.48,227.94 L225.33,228.66 L225.19,229.39 L225.05,230.11 L224.87,230.81 L224.65,231.47 L224.37,232.06 L224.02,232.59 L223.59,233.04 L223.08,233.42 L222.49,233.72 L221.85,233.98 L221.16,234.18 L220.45,234.37 L219.72,234.54"/><path d="M227.34,220.20 L226.62,220.37 L225.92,220.57 L225.26,220.81 L224.66,221.10 L224.12,221.46 L223.67,221.89 L223.29,222.39 L222.99,222.96 L222.75,223.60 L222.57,224.29 L222.42,225.00 L222.28,225.74 L222.13,226.46 L221.96,227.16 L221.74,227.81 L221.46,228.40 L221.11,228.93 L220.67,229.38 L220.16,229.76 L219.58,230.07 L218.94,230.32 L218.25,230.53 L217.54,230.71 L216.81,230.89"/><path d="M224.43,216.54 L223.71,216.72 L223.01,216.92 L222.35,217.15 L221.75,217.44 L221.21,217.80 L220.76,218.23 L220.38,218.73 L220.08,219.31 L219.84,219.95 L219.66,220.63 L219.51,221.35 L219.37,222.08 L219.22,222.80 L219.05,223.50 L218.83,224.15 L218.55,224.75 L218.20,225.27 L217.76,225.73 L217.25,226.10 L216.67,226.41 L216.03,226.67 L215.34,226.87 L214.62,227.06 L213.90,227.23"/><path d="M221.51,212.88 L220.79,213.06 L220.10,213.26 L219.44,213.50 L218.83,213.79 L218.30,214.15 L217.85,214.57 L217.47,215.08 L217.17,215.65 L216.93,216.29 L216.75,216.98 L216.59,217.69 L216.46,218.42 L216.31,219.15 L216.14,219.85 L215.92,220.50 L215.64,221.09 L215.28,221.62 L214.85,222.07 L214.34,222.45 L213.76,222.76 L213.12,223.01 L212.43,223.22 L211.71,223.40 L210.99,223.58"/><path d="M218.60,209.23 L217.88,209.41 L217.18,209.61 L216.53,209.84 L215.92,210.13 L215.39,210.49 L214.94,210.92 L214.56,211.42 L214.26,212.00 L214.02,212.63 L213.83,213.32 L213.68,214.04 L213.55,214.77 L213.40,215.49 L213.23,216.19 L213.01,216.84 L212.73,217.44 L212.37,217.96 L211.94,218.41 L211.43,218.79 L210.85,219.10 L210.21,219.35 L209.52,219.56 L208.80,219.74 L208.08,219.92"/></g><g fill="none" stroke="#f8d6f7" stroke-width="4.1" stroke-linecap="round"><path d="M257.70,244.76 L258.44,244.73 L259.17,244.73 L259.87,244.78 L260.53,244.89 L261.14,245.09 L261.69,245.37 L262.19,245.76 L262.64,246.22 L263.05,246.77 L263.41,247.38 L263.76,248.03 L264.09,248.69 L264.43,249.35 L264.79,249.97 L265.18,250.54 L265.61,251.03 L266.10,251.44 L266.64,251.75 L267.23,251.98 L267.88,252.11 L268.56,252.18 L269.28,252.19 L270.02,252.17 L270.76,252.14"/><path d="M260.61,241.10 L261.35,241.08 L262.08,241.08 L262.78,241.12 L263.44,241.24 L264.05,241.43 L264.60,241.72 L265.10,242.10 L265.55,242.57 L265.96,243.12 L266.32,243.72 L266.67,244.37 L267.00,245.04 L267.34,245.69 L267.70,246.32 L268.09,246.88 L268.52,247.38 L269.01,247.78 L269.55,248.10 L270.14,248.32 L270.79,248.46 L271.47,248.52 L272.19,248.53 L272.93,248.51 L273.68,248.48"/><path d="M263.52,237.45 L264.26,237.42 L264.99,237.42 L265.69,237.47 L266.35,237.58 L266.96,237.78 L267.51,238.06 L268.02,238.44 L268.46,238.91 L268.87,239.46 L269.23,240.07 L269.58,240.72 L269.91,241.38 L270.25,242.04 L270.61,242.66 L271.00,243.23 L271.43,243.72 L271.92,244.13 L272.46,244.44 L273.05,244.67 L273.70,244.80 L274.39,244.87 L275.10,244.88 L275.84,244.86 L276.59,244.83"/><path d="M266.43,233.79 L267.18,233.77 L267.90,233.77 L268.60,233.81 L269.26,233.93 L269.87,234.12 L270.43,234.41 L270.93,234.79 L271.38,235.26 L271.78,235.80 L272.15,236.41 L272.49,237.06 L272.82,237.73 L273.16,238.38 L273.52,239.00 L273.91,239.57 L274.35,240.07 L274.83,240.47 L275.37,240.79 L275.96,241.01 L276.61,241.15 L277.30,241.21 L278.02,241.22 L278.75,241.20 L279.50,241.17"/><path d="M269.35,230.14 L270.09,230.11 L270.81,230.11 L271.51,230.16 L272.17,230.27 L272.78,230.47 L273.34,230.75 L273.84,231.13 L274.29,231.60 L274.69,232.15 L275.06,232.76 L275.40,233.41 L275.73,234.07 L276.07,234.73 L276.43,235.35 L276.82,235.92 L277.26,236.41 L277.74,236.82 L278.28,237.13 L278.88,237.36 L279.52,237.49 L280.21,237.56 L280.93,237.57 L281.67,237.55 L282.41,237.52"/><path d="M272.26,226.48 L273.00,226.46 L273.72,226.45 L274.42,226.50 L275.08,226.61 L275.69,226.81 L276.25,227.10 L276.75,227.48 L277.20,227.95 L277.60,228.49 L277.97,229.10 L278.31,229.75 L278.64,230.41 L278.98,231.07 L279.34,231.69 L279.73,232.26 L280.17,232.75 L280.65,233.16 L281.19,233.48 L281.79,233.70 L282.43,233.84 L283.12,233.90 L283.84,233.91 L284.58,233.89 L285.32,233.86"/><path d="M275.17,222.83 L275.91,222.80 L276.64,222.80 L277.33,222.84 L277.99,222.96 L278.60,223.15 L279.16,223.44 L279.66,223.82 L280.11,224.29 L280.51,224.84 L280.88,225.45 L281.22,226.09 L281.56,226.76 L281.89,227.41 L282.25,228.04 L282.64,228.60 L283.08,229.10 L283.56,229.51 L284.10,229.82 L284.70,230.04 L285.34,230.18 L286.03,230.25 L286.75,230.26 L287.49,230.23 L288.23,230.21"/><path d="M278.08,219.17 L278.82,219.14 L279.55,219.14 L280.25,219.19 L280.90,219.30 L281.51,219.50 L282.07,219.79 L282.57,220.17 L283.02,220.64 L283.42,221.18 L283.79,221.79 L284.13,222.44 L284.47,223.10 L284.81,223.76 L285.16,224.38 L285.56,224.95 L285.99,225.44 L286.47,225.85 L287.01,226.17 L287.61,226.39 L288.25,226.53 L288.94,226.59 L289.66,226.60 L290.40,226.58 L291.14,226.55"/><path d="M280.99,215.52 L281.73,215.49 L282.46,215.49 L283.16,215.53 L283.81,215.65 L284.42,215.84 L284.98,216.13 L285.48,216.51 L285.93,216.98 L286.33,217.53 L286.70,218.13 L287.04,218.78 L287.38,219.45 L287.72,220.10 L288.08,220.73 L288.47,221.29 L288.90,221.79 L289.39,222.20 L289.93,222.51 L290.52,222.73 L291.16,222.87 L291.85,222.94 L292.57,222.95 L293.31,222.92 L294.05,222.89"/><path d="M283.90,211.86 L284.64,211.83 L285.37,211.83 L286.07,211.88 L286.73,211.99 L287.34,212.19 L287.89,212.47 L288.39,212.86 L288.84,213.32 L289.25,213.87 L289.61,214.48 L289.96,215.13 L290.29,215.79 L290.63,216.45 L290.99,217.07 L291.38,217.64 L291.81,218.13 L292.30,218.54 L292.84,218.85 L293.43,219.08 L294.08,219.21 L294.76,219.28 L295.48,219.29 L296.22,219.27 L296.96,219.24"/></g><g fill="none" stroke="#4f2878" stroke-width="2.0" stroke-linecap="round"><path d="M257.70,244.76 L258.44,244.73 L259.17,244.73 L259.87,244.78 L260.53,244.89 L261.14,245.09 L261.69,245.37 L262.19,245.76 L262.64,246.22 L263.05,246.77 L263.41,247.38 L263.76,248.03 L264.09,248.69 L264.43,249.35 L264.79,249.97 L265.18,250.54 L265.61,251.03 L266.10,251.44 L266.64,251.75 L267.23,251.98 L267.88,252.11 L268.56,252.18 L269.28,252.19 L270.02,252.17 L270.76,252.14"/><path d="M260.61,241.10 L261.35,241.08 L262.08,241.08 L262.78,241.12 L263.44,241.24 L264.05,241.43 L264.60,241.72 L265.10,242.10 L265.55,242.57 L265.96,243.12 L266.32,243.72 L266.67,244.37 L267.00,245.04 L267.34,245.69 L267.70,246.32 L268.09,246.88 L268.52,247.38 L269.01,247.78 L269.55,248.10 L270.14,248.32 L270.79,248.46 L271.47,248.52 L272.19,248.53 L272.93,248.51 L273.68,248.48"/><path d="M263.52,237.45 L264.26,237.42 L264.99,237.42 L265.69,237.47 L266.35,237.58 L266.96,237.78 L267.51,238.06 L268.02,238.44 L268.46,238.91 L268.87,239.46 L269.23,240.07 L269.58,240.72 L269.91,241.38 L270.25,242.04 L270.61,242.66 L271.00,243.23 L271.43,243.72 L271.92,244.13 L272.46,244.44 L273.05,244.67 L273.70,244.80 L274.39,244.87 L275.10,244.88 L275.84,244.86 L276.59,244.83"/><path d="M266.43,233.79 L267.18,233.77 L267.90,233.77 L268.60,233.81 L269.26,233.93 L269.87,234.12 L270.43,234.41 L270.93,234.79 L271.38,235.26 L271.78,235.80 L272.15,236.41 L272.49,237.06 L272.82,237.73 L273.16,238.38 L273.52,239.00 L273.91,239.57 L274.35,240.07 L274.83,240.47 L275.37,240.79 L275.96,241.01 L276.61,241.15 L277.30,241.21 L278.02,241.22 L278.75,241.20 L279.50,241.17"/><path d="M269.35,230.14 L270.09,230.11 L270.81,230.11 L271.51,230.16 L272.17,230.27 L272.78,230.47 L273.34,230.75 L273.84,231.13 L274.29,231.60 L274.69,232.15 L275.06,232.76 L275.40,233.41 L275.73,234.07 L276.07,234.73 L276.43,235.35 L276.82,235.92 L277.26,236.41 L277.74,236.82 L278.28,237.13 L278.88,237.36 L279.52,237.49 L280.21,237.56 L280.93,237.57 L281.67,237.55 L282.41,237.52"/><path d="M272.26,226.48 L273.00,226.46 L273.72,226.45 L274.42,226.50 L275.08,226.61 L275.69,226.81 L276.25,227.10 L276.75,227.48 L277.20,227.95 L277.60,228.49 L277.97,229.10 L278.31,229.75 L278.64,230.41 L278.98,231.07 L279.34,231.69 L279.73,232.26 L280.17,232.75 L280.65,233.16 L281.19,233.48 L281.79,233.70 L282.43,233.84 L283.12,233.90 L283.84,233.91 L284.58,233.89 L285.32,233.86"/><path d="M275.17,222.83 L275.91,222.80 L276.64,222.80 L277.33,222.84 L277.99,222.96 L278.60,223.15 L279.16,223.44 L279.66,223.82 L280.11,224.29 L280.51,224.84 L280.88,225.45 L281.22,226.09 L281.56,226.76 L281.89,227.41 L282.25,228.04 L282.64,228.60 L283.08,229.10 L283.56,229.51 L284.10,229.82 L284.70,230.04 L285.34,230.18 L286.03,230.25 L286.75,230.26 L287.49,230.23 L288.23,230.21"/><path d="M278.08,219.17 L278.82,219.14 L279.55,219.14 L280.25,219.19 L280.90,219.30 L281.51,219.50 L282.07,219.79 L282.57,220.17 L283.02,220.64 L283.42,221.18 L283.79,221.79 L284.13,222.44 L284.47,223.10 L284.81,223.76 L285.16,224.38 L285.56,224.95 L285.99,225.44 L286.47,225.85 L287.01,226.17 L287.61,226.39 L288.25,226.53 L288.94,226.59 L289.66,226.60 L290.40,226.58 L291.14,226.55"/><path d="M280.99,215.52 L281.73,215.49 L282.46,215.49 L283.16,215.53 L283.81,215.65 L284.42,215.84 L284.98,216.13 L285.48,216.51 L285.93,216.98 L286.33,217.53 L286.70,218.13 L287.04,218.78 L287.38,219.45 L287.72,220.10 L288.08,220.73 L288.47,221.29 L288.90,221.79 L289.39,222.20 L289.93,222.51 L290.52,222.73 L291.16,222.87 L291.85,222.94 L292.57,222.95 L293.31,222.92 L294.05,222.89"/><path d="M283.90,211.86 L284.64,211.83 L285.37,211.83 L286.07,211.88 L286.73,211.99 L287.34,212.19 L287.89,212.47 L288.39,212.86 L288.84,213.32 L289.25,213.87 L289.61,214.48 L289.96,215.13 L290.29,215.79 L290.63,216.45 L290.99,217.07 L291.38,217.64 L291.81,218.13 L292.30,218.54 L292.84,218.85 L293.43,219.08 L294.08,219.21 L294.76,219.28 L295.48,219.29 L296.22,219.27 L296.96,219.24"/></g><rect x="243.15" y="239.95" width="6.40" height="11.10" rx="0.8" fill="#3d67b8" stroke="#223c74" stroke-width="0.9"/><rect x="255.05" y="239.95" width="6.40" height="11.10" rx="0.8" fill="#3d67b8" stroke="#223c74" stroke-width="0.9"/><rect x="0" y="-2.50" width="42.06" height="5.00" rx="1.1" fill="#e0b94f" stroke="#3a3520" stroke-width="1.3" transform="translate(246.23 239.91) rotate(-128.53)"/><rect x="0" y="-2.50" width="42.06" height="5.00" rx="1.1" fill="#e0b94f" stroke="#3a3520" stroke-width="1.3" transform="translate(258.37 239.91) rotate(-51.47)"/>
<rect x="418.4" y="238.5" width="5.2" height="13.5" fill="#fbf6ea"/><g fill="none" stroke="#f8d6f7" stroke-width="4.1" stroke-linecap="round"><path d="M413.50,242.13 L412.78,242.31 L412.08,242.51 L411.43,242.74 L410.82,243.03 L410.29,243.39 L409.84,243.82 L409.46,244.32 L409.16,244.90 L408.92,245.53 L408.73,246.22 L408.58,246.94 L408.45,247.67 L408.30,248.39 L408.13,249.09 L407.91,249.74 L407.63,250.34 L407.27,250.86 L406.84,251.31 L406.33,251.69 L405.75,252.00 L405.11,252.25 L404.42,252.46 L403.70,252.64 L402.98,252.82"/><path d="M410.59,238.47 L409.87,238.65 L409.17,238.85 L408.51,239.09 L407.91,239.38 L407.38,239.73 L406.92,240.16 L406.55,240.67 L406.25,241.24 L406.01,241.88 L405.82,242.56 L405.67,243.28 L405.53,244.01 L405.39,244.74 L405.22,245.43 L405.00,246.09 L404.72,246.68 L404.36,247.21 L403.93,247.66 L403.42,248.04 L402.84,248.35 L402.20,248.60 L401.51,248.81 L400.79,248.99 L400.07,249.17"/><path d="M407.68,234.82 L406.96,235.00 L406.26,235.19 L405.60,235.43 L405.00,235.72 L404.47,236.08 L404.01,236.51 L403.64,237.01 L403.33,237.59 L403.10,238.22 L402.91,238.91 L402.76,239.63 L402.62,240.36 L402.48,241.08 L402.31,241.78 L402.09,242.43 L401.80,243.03 L401.45,243.55 L401.02,244.00 L400.51,244.38 L399.93,244.69 L399.28,244.94 L398.60,245.15 L397.88,245.33 L397.16,245.51"/><path d="M404.77,231.16 L404.05,231.34 L403.35,231.54 L402.69,231.78 L402.09,232.07 L401.56,232.42 L401.10,232.85 L400.73,233.36 L400.42,233.93 L400.19,234.57 L400.00,235.25 L399.85,235.97 L399.71,236.70 L399.57,237.43 L399.39,238.12 L399.18,238.78 L398.89,239.37 L398.54,239.90 L398.11,240.35 L397.60,240.73 L397.02,241.04 L396.37,241.29 L395.68,241.50 L394.97,241.68 L394.25,241.85"/><path d="M401.86,227.51 L401.14,227.68 L400.44,227.88 L399.78,228.12 L399.18,228.41 L398.65,228.77 L398.19,229.20 L397.81,229.70 L397.51,230.28 L397.28,230.91 L397.09,231.60 L396.94,232.32 L396.80,233.05 L396.66,233.77 L396.48,234.47 L396.26,235.12 L395.98,235.72 L395.63,236.24 L395.20,236.69 L394.69,237.07 L394.11,237.38 L393.46,237.63 L392.77,237.84 L392.06,238.02 L391.34,238.20"/><path d="M398.95,223.85 L398.23,224.03 L397.53,224.23 L396.87,224.46 L396.27,224.76 L395.74,225.11 L395.28,225.54 L394.90,226.05 L394.60,226.62 L394.36,227.26 L394.18,227.94 L394.03,228.66 L393.89,229.39 L393.75,230.11 L393.57,230.81 L393.35,231.47 L393.07,232.06 L392.72,232.59 L392.29,233.04 L391.78,233.42 L391.19,233.72 L390.55,233.98 L389.86,234.18 L389.15,234.37 L388.42,234.54"/><path d="M396.04,220.20 L395.32,220.37 L394.62,220.57 L393.96,220.81 L393.36,221.10 L392.82,221.46 L392.37,221.89 L391.99,222.39 L391.69,222.96 L391.45,223.60 L391.27,224.29 L391.12,225.00 L390.98,225.74 L390.83,226.46 L390.66,227.16 L390.44,227.81 L390.16,228.40 L389.81,228.93 L389.37,229.38 L388.86,229.76 L388.28,230.07 L387.64,230.32 L386.95,230.53 L386.24,230.71 L385.51,230.89"/><path d="M393.13,216.54 L392.41,216.72 L391.71,216.92 L391.05,217.15 L390.45,217.44 L389.91,217.80 L389.46,218.23 L389.08,218.73 L388.78,219.31 L388.54,219.95 L388.36,220.63 L388.21,221.35 L388.07,222.08 L387.92,222.80 L387.75,223.50 L387.53,224.15 L387.25,224.75 L386.90,225.27 L386.46,225.73 L385.95,226.10 L385.37,226.41 L384.73,226.67 L384.04,226.87 L383.32,227.06 L382.60,227.23"/><path d="M390.21,212.88 L389.49,213.06 L388.80,213.26 L388.14,213.50 L387.53,213.79 L387.00,214.15 L386.55,214.57 L386.17,215.08 L385.87,215.65 L385.63,216.29 L385.45,216.98 L385.29,217.69 L385.16,218.42 L385.01,219.15 L384.84,219.85 L384.62,220.50 L384.34,221.09 L383.98,221.62 L383.55,222.07 L383.04,222.45 L382.46,222.76 L381.82,223.01 L381.13,223.22 L380.41,223.40 L379.69,223.58"/><path d="M387.30,209.23 L386.58,209.41 L385.88,209.61 L385.23,209.84 L384.62,210.13 L384.09,210.49 L383.64,210.92 L383.26,211.42 L382.96,212.00 L382.72,212.63 L382.53,213.32 L382.38,214.04 L382.25,214.77 L382.10,215.49 L381.93,216.19 L381.71,216.84 L381.43,217.44 L381.07,217.96 L380.64,218.41 L380.13,218.79 L379.55,219.10 L378.91,219.35 L378.22,219.56 L377.50,219.74 L376.78,219.92"/></g><g fill="none" stroke="#4f2878" stroke-width="2.0" stroke-linecap="round"><path d="M413.50,242.13 L412.78,242.31 L412.08,242.51 L411.43,242.74 L410.82,243.03 L410.29,243.39 L409.84,243.82 L409.46,244.32 L409.16,244.90 L408.92,245.53 L408.73,246.22 L408.58,246.94 L408.45,247.67 L408.30,248.39 L408.13,249.09 L407.91,249.74 L407.63,250.34 L407.27,250.86 L406.84,251.31 L406.33,251.69 L405.75,252.00 L405.11,252.25 L404.42,252.46 L403.70,252.64 L402.98,252.82"/><path d="M410.59,238.47 L409.87,238.65 L409.17,238.85 L408.51,239.09 L407.91,239.38 L407.38,239.73 L406.92,240.16 L406.55,240.67 L406.25,241.24 L406.01,241.88 L405.82,242.56 L405.67,243.28 L405.53,244.01 L405.39,244.74 L405.22,245.43 L405.00,246.09 L404.72,246.68 L404.36,247.21 L403.93,247.66 L403.42,248.04 L402.84,248.35 L402.20,248.60 L401.51,248.81 L400.79,248.99 L400.07,249.17"/><path d="M407.68,234.82 L406.96,235.00 L406.26,235.19 L405.60,235.43 L405.00,235.72 L404.47,236.08 L404.01,236.51 L403.64,237.01 L403.33,237.59 L403.10,238.22 L402.91,238.91 L402.76,239.63 L402.62,240.36 L402.48,241.08 L402.31,241.78 L402.09,242.43 L401.80,243.03 L401.45,243.55 L401.02,244.00 L400.51,244.38 L399.93,244.69 L399.28,244.94 L398.60,245.15 L397.88,245.33 L397.16,245.51"/><path d="M404.77,231.16 L404.05,231.34 L403.35,231.54 L402.69,231.78 L402.09,232.07 L401.56,232.42 L401.10,232.85 L400.73,233.36 L400.42,233.93 L400.19,234.57 L400.00,235.25 L399.85,235.97 L399.71,236.70 L399.57,237.43 L399.39,238.12 L399.18,238.78 L398.89,239.37 L398.54,239.90 L398.11,240.35 L397.60,240.73 L397.02,241.04 L396.37,241.29 L395.68,241.50 L394.97,241.68 L394.25,241.85"/><path d="M401.86,227.51 L401.14,227.68 L400.44,227.88 L399.78,228.12 L399.18,228.41 L398.65,228.77 L398.19,229.20 L397.81,229.70 L397.51,230.28 L397.28,230.91 L397.09,231.60 L396.94,232.32 L396.80,233.05 L396.66,233.77 L396.48,234.47 L396.26,235.12 L395.98,235.72 L395.63,236.24 L395.20,236.69 L394.69,237.07 L394.11,237.38 L393.46,237.63 L392.77,237.84 L392.06,238.02 L391.34,238.20"/><path d="M398.95,223.85 L398.23,224.03 L397.53,224.23 L396.87,224.46 L396.27,224.76 L395.74,225.11 L395.28,225.54 L394.90,226.05 L394.60,226.62 L394.36,227.26 L394.18,227.94 L394.03,228.66 L393.89,229.39 L393.75,230.11 L393.57,230.81 L393.35,231.47 L393.07,232.06 L392.72,232.59 L392.29,233.04 L391.78,233.42 L391.19,233.72 L390.55,233.98 L389.86,234.18 L389.15,234.37 L388.42,234.54"/><path d="M396.04,220.20 L395.32,220.37 L394.62,220.57 L393.96,220.81 L393.36,221.10 L392.82,221.46 L392.37,221.89 L391.99,222.39 L391.69,222.96 L391.45,223.60 L391.27,224.29 L391.12,225.00 L390.98,225.74 L390.83,226.46 L390.66,227.16 L390.44,227.81 L390.16,228.40 L389.81,228.93 L389.37,229.38 L388.86,229.76 L388.28,230.07 L387.64,230.32 L386.95,230.53 L386.24,230.71 L385.51,230.89"/><path d="M393.13,216.54 L392.41,216.72 L391.71,216.92 L391.05,217.15 L390.45,217.44 L389.91,217.80 L389.46,218.23 L389.08,218.73 L388.78,219.31 L388.54,219.95 L388.36,220.63 L388.21,221.35 L388.07,222.08 L387.92,222.80 L387.75,223.50 L387.53,224.15 L387.25,224.75 L386.90,225.27 L386.46,225.73 L385.95,226.10 L385.37,226.41 L384.73,226.67 L384.04,226.87 L383.32,227.06 L382.60,227.23"/><path d="M390.21,212.88 L389.49,213.06 L388.80,213.26 L388.14,213.50 L387.53,213.79 L387.00,214.15 L386.55,214.57 L386.17,215.08 L385.87,215.65 L385.63,216.29 L385.45,216.98 L385.29,217.69 L385.16,218.42 L385.01,219.15 L384.84,219.85 L384.62,220.50 L384.34,221.09 L383.98,221.62 L383.55,222.07 L383.04,222.45 L382.46,222.76 L381.82,223.01 L381.13,223.22 L380.41,223.40 L379.69,223.58"/><path d="M387.30,209.23 L386.58,209.41 L385.88,209.61 L385.23,209.84 L384.62,210.13 L384.09,210.49 L383.64,210.92 L383.26,211.42 L382.96,212.00 L382.72,212.63 L382.53,213.32 L382.38,214.04 L382.25,214.77 L382.10,215.49 L381.93,216.19 L381.71,216.84 L381.43,217.44 L381.07,217.96 L380.64,218.41 L380.13,218.79 L379.55,219.10 L378.91,219.35 L378.22,219.56 L377.50,219.74 L376.78,219.92"/></g><g fill="none" stroke="#f8d6f7" stroke-width="4.1" stroke-linecap="round"><path d="M426.40,244.76 L427.14,244.73 L427.87,244.73 L428.57,244.78 L429.23,244.89 L429.84,245.09 L430.39,245.37 L430.89,245.76 L431.34,246.22 L431.75,246.77 L432.11,247.38 L432.46,248.03 L432.79,248.69 L433.13,249.35 L433.49,249.97 L433.88,250.54 L434.31,251.03 L434.80,251.44 L435.34,251.75 L435.93,251.98 L436.58,252.11 L437.26,252.18 L437.98,252.19 L438.72,252.17 L439.46,252.14"/><path d="M429.31,241.10 L430.05,241.08 L430.78,241.08 L431.48,241.12 L432.14,241.24 L432.75,241.43 L433.30,241.72 L433.80,242.10 L434.25,242.57 L434.66,243.12 L435.02,243.72 L435.37,244.37 L435.70,245.04 L436.04,245.69 L436.40,246.32 L436.79,246.88 L437.22,247.38 L437.71,247.78 L438.25,248.10 L438.84,248.32 L439.49,248.46 L440.17,248.52 L440.89,248.53 L441.63,248.51 L442.38,248.48"/><path d="M432.22,237.45 L432.96,237.42 L433.69,237.42 L434.39,237.47 L435.05,237.58 L435.66,237.78 L436.21,238.06 L436.72,238.44 L437.16,238.91 L437.57,239.46 L437.93,240.07 L438.28,240.72 L438.61,241.38 L438.95,242.04 L439.31,242.66 L439.70,243.23 L440.13,243.72 L440.62,244.13 L441.16,244.44 L441.75,244.67 L442.40,244.80 L443.09,244.87 L443.80,244.88 L444.54,244.86 L445.29,244.83"/><path d="M435.13,233.79 L435.88,233.77 L436.60,233.77 L437.30,233.81 L437.96,233.93 L438.57,234.12 L439.13,234.41 L439.63,234.79 L440.08,235.26 L440.48,235.80 L440.85,236.41 L441.19,237.06 L441.52,237.73 L441.86,238.38 L442.22,239.00 L442.61,239.57 L443.05,240.07 L443.53,240.47 L444.07,240.79 L444.66,241.01 L445.31,241.15 L446.00,241.21 L446.72,241.22 L447.45,241.20 L448.20,241.17"/><path d="M438.05,230.14 L438.79,230.11 L439.51,230.11 L440.21,230.16 L440.87,230.27 L441.48,230.47 L442.04,230.75 L442.54,231.13 L442.99,231.60 L443.39,232.15 L443.76,232.76 L444.10,233.41 L444.43,234.07 L444.77,234.73 L445.13,235.35 L445.52,235.92 L445.96,236.41 L446.44,236.82 L446.98,237.13 L447.58,237.36 L448.22,237.49 L448.91,237.56 L449.63,237.57 L450.37,237.55 L451.11,237.52"/><path d="M440.96,226.48 L441.70,226.46 L442.42,226.45 L443.12,226.50 L443.78,226.61 L444.39,226.81 L444.95,227.10 L445.45,227.48 L445.90,227.95 L446.30,228.49 L446.67,229.10 L447.01,229.75 L447.34,230.41 L447.68,231.07 L448.04,231.69 L448.43,232.26 L448.87,232.75 L449.35,233.16 L449.89,233.48 L450.49,233.70 L451.13,233.84 L451.82,233.90 L452.54,233.91 L453.28,233.89 L454.02,233.86"/><path d="M443.87,222.83 L444.61,222.80 L445.34,222.80 L446.03,222.84 L446.69,222.96 L447.30,223.15 L447.86,223.44 L448.36,223.82 L448.81,224.29 L449.21,224.84 L449.58,225.45 L449.92,226.09 L450.26,226.76 L450.59,227.41 L450.95,228.04 L451.34,228.60 L451.78,229.10 L452.26,229.51 L452.80,229.82 L453.40,230.04 L454.04,230.18 L454.73,230.25 L455.45,230.26 L456.19,230.23 L456.93,230.21"/><path d="M446.78,219.17 L447.52,219.14 L448.25,219.14 L448.95,219.19 L449.60,219.30 L450.21,219.50 L450.77,219.79 L451.27,220.17 L451.72,220.64 L452.12,221.18 L452.49,221.79 L452.83,222.44 L453.17,223.10 L453.51,223.76 L453.86,224.38 L454.26,224.95 L454.69,225.44 L455.17,225.85 L455.71,226.17 L456.31,226.39 L456.95,226.53 L457.64,226.59 L458.36,226.60 L459.10,226.58 L459.84,226.55"/><path d="M449.69,215.52 L450.43,215.49 L451.16,215.49 L451.86,215.53 L452.51,215.65 L453.12,215.84 L453.68,216.13 L454.18,216.51 L454.63,216.98 L455.03,217.53 L455.40,218.13 L455.74,218.78 L456.08,219.45 L456.42,220.10 L456.78,220.73 L457.17,221.29 L457.60,221.79 L458.09,222.20 L458.63,222.51 L459.22,222.73 L459.86,222.87 L460.55,222.94 L461.27,222.95 L462.01,222.92 L462.75,222.89"/><path d="M452.60,211.86 L453.34,211.83 L454.07,211.83 L454.77,211.88 L455.43,211.99 L456.04,212.19 L456.59,212.47 L457.09,212.86 L457.54,213.32 L457.95,213.87 L458.31,214.48 L458.66,215.13 L458.99,215.79 L459.33,216.45 L459.69,217.07 L460.08,217.64 L460.51,218.13 L461.00,218.54 L461.54,218.85 L462.13,219.08 L462.78,219.21 L463.46,219.28 L464.18,219.29 L464.92,219.27 L465.66,219.24"/></g><g fill="none" stroke="#4f2878" stroke-width="2.0" stroke-linecap="round"><path d="M426.40,244.76 L427.14,244.73 L427.87,244.73 L428.57,244.78 L429.23,244.89 L429.84,245.09 L430.39,245.37 L430.89,245.76 L431.34,246.22 L431.75,246.77 L432.11,247.38 L432.46,248.03 L432.79,248.69 L433.13,249.35 L433.49,249.97 L433.88,250.54 L434.31,251.03 L434.80,251.44 L435.34,251.75 L435.93,251.98 L436.58,252.11 L437.26,252.18 L437.98,252.19 L438.72,252.17 L439.46,252.14"/><path d="M429.31,241.10 L430.05,241.08 L430.78,241.08 L431.48,241.12 L432.14,241.24 L432.75,241.43 L433.30,241.72 L433.80,242.10 L434.25,242.57 L434.66,243.12 L435.02,243.72 L435.37,244.37 L435.70,245.04 L436.04,245.69 L436.40,246.32 L436.79,246.88 L437.22,247.38 L437.71,247.78 L438.25,248.10 L438.84,248.32 L439.49,248.46 L440.17,248.52 L440.89,248.53 L441.63,248.51 L442.38,248.48"/><path d="M432.22,237.45 L432.96,237.42 L433.69,237.42 L434.39,237.47 L435.05,237.58 L435.66,237.78 L436.21,238.06 L436.72,238.44 L437.16,238.91 L437.57,239.46 L437.93,240.07 L438.28,240.72 L438.61,241.38 L438.95,242.04 L439.31,242.66 L439.70,243.23 L440.13,243.72 L440.62,244.13 L441.16,244.44 L441.75,244.67 L442.40,244.80 L443.09,244.87 L443.80,244.88 L444.54,244.86 L445.29,244.83"/><path d="M435.13,233.79 L435.88,233.77 L436.60,233.77 L437.30,233.81 L437.96,233.93 L438.57,234.12 L439.13,234.41 L439.63,234.79 L440.08,235.26 L440.48,235.80 L440.85,236.41 L441.19,237.06 L441.52,237.73 L441.86,238.38 L442.22,239.00 L442.61,239.57 L443.05,240.07 L443.53,240.47 L444.07,240.79 L444.66,241.01 L445.31,241.15 L446.00,241.21 L446.72,241.22 L447.45,241.20 L448.20,241.17"/><path d="M438.05,230.14 L438.79,230.11 L439.51,230.11 L440.21,230.16 L440.87,230.27 L441.48,230.47 L442.04,230.75 L442.54,231.13 L442.99,231.60 L443.39,232.15 L443.76,232.76 L444.10,233.41 L444.43,234.07 L444.77,234.73 L445.13,235.35 L445.52,235.92 L445.96,236.41 L446.44,236.82 L446.98,237.13 L447.58,237.36 L448.22,237.49 L448.91,237.56 L449.63,237.57 L450.37,237.55 L451.11,237.52"/><path d="M440.96,226.48 L441.70,226.46 L442.42,226.45 L443.12,226.50 L443.78,226.61 L444.39,226.81 L444.95,227.10 L445.45,227.48 L445.90,227.95 L446.30,228.49 L446.67,229.10 L447.01,229.75 L447.34,230.41 L447.68,231.07 L448.04,231.69 L448.43,232.26 L448.87,232.75 L449.35,233.16 L449.89,233.48 L450.49,233.70 L451.13,233.84 L451.82,233.90 L452.54,233.91 L453.28,233.89 L454.02,233.86"/><path d="M443.87,222.83 L444.61,222.80 L445.34,222.80 L446.03,222.84 L446.69,222.96 L447.30,223.15 L447.86,223.44 L448.36,223.82 L448.81,224.29 L449.21,224.84 L449.58,225.45 L449.92,226.09 L450.26,226.76 L450.59,227.41 L450.95,228.04 L451.34,228.60 L451.78,229.10 L452.26,229.51 L452.80,229.82 L453.40,230.04 L454.04,230.18 L454.73,230.25 L455.45,230.26 L456.19,230.23 L456.93,230.21"/><path d="M446.78,219.17 L447.52,219.14 L448.25,219.14 L448.95,219.19 L449.60,219.30 L450.21,219.50 L450.77,219.79 L451.27,220.17 L451.72,220.64 L452.12,221.18 L452.49,221.79 L452.83,222.44 L453.17,223.10 L453.51,223.76 L453.86,224.38 L454.26,224.95 L454.69,225.44 L455.17,225.85 L455.71,226.17 L456.31,226.39 L456.95,226.53 L457.64,226.59 L458.36,226.60 L459.10,226.58 L459.84,226.55"/><path d="M449.69,215.52 L450.43,215.49 L451.16,215.49 L451.86,215.53 L452.51,215.65 L453.12,215.84 L453.68,216.13 L454.18,216.51 L454.63,216.98 L455.03,217.53 L455.40,218.13 L455.74,218.78 L456.08,219.45 L456.42,220.10 L456.78,220.73 L457.17,221.29 L457.60,221.79 L458.09,222.20 L458.63,222.51 L459.22,222.73 L459.86,222.87 L460.55,222.94 L461.27,222.95 L462.01,222.92 L462.75,222.89"/><path d="M452.60,211.86 L453.34,211.83 L454.07,211.83 L454.77,211.88 L455.43,211.99 L456.04,212.19 L456.59,212.47 L457.09,212.86 L457.54,213.32 L457.95,213.87 L458.31,214.48 L458.66,215.13 L458.99,215.79 L459.33,216.45 L459.69,217.07 L460.08,217.64 L460.51,218.13 L461.00,218.54 L461.54,218.85 L462.13,219.08 L462.78,219.21 L463.46,219.28 L464.18,219.29 L464.92,219.27 L465.66,219.24"/></g><rect x="411.85" y="239.95" width="6.40" height="11.10" rx="0.8" fill="#3d67b8" stroke="#223c74" stroke-width="0.9"/><rect x="423.75" y="239.95" width="6.40" height="11.10" rx="0.8" fill="#3d67b8" stroke="#223c74" stroke-width="0.9"/><rect x="0" y="-2.50" width="42.06" height="5.00" rx="1.1" fill="#e0b94f" stroke="#3a3520" stroke-width="1.3" transform="translate(414.93 239.91) rotate(-128.53)"/><rect x="0" y="-2.50" width="42.06" height="5.00" rx="1.1" fill="#e0b94f" stroke="#3a3520" stroke-width="1.3" transform="translate(427.07 239.91) rotate(-51.47)"/>
<line x1="393.5" y1="81.6" x2="385.9" y2="86.5" stroke="#7b7363" stroke-width="3.0"/><line x1="380.9" y1="90.2" x2="373.6" y2="94.8" stroke="#7b7363" stroke-width="3.0"/><line x1="368.8" y1="98.9" x2="364.5" y2="101.7" stroke="#7b7363" stroke-width="3.0"/><polygon points="358.2,105.9 363.1,99.4 366.1,104.0" fill="#7b7363"/>
<line x1="251.0" y1="197.3" x2="252.3" y2="205.4" stroke="#7b7363" stroke-width="3.0"/><line x1="253.3" y1="212.0" x2="254.5" y2="220.4" stroke="#7b7363" stroke-width="3.0"/><polygon points="255.5,233.2 251.7,226.9 258.1,226.3" fill="#7b7363"/>
<line x1="417.3" y1="196.3" x2="425.4" y2="200.8" stroke="#7b7363" stroke-width="3.0"/><line x1="430.5" y1="203.7" x2="437.8" y2="207.1" stroke="#7b7363" stroke-width="3.0"/><polygon points="443.5,209.6 436.0,209.5 438.4,204.1" fill="#7b7363"/>
<line x1="413.2" y1="198.8" x2="419.8" y2="204.9" stroke="#7b7363" stroke-width="3.0"/><line x1="423.4" y1="210.0" x2="429.0" y2="216.8" stroke="#7b7363" stroke-width="3.0"/><polygon points="433.4,222.0 426.5,218.6 431.3,214.6" fill="#7b7363"/>
<line x1="410.7" y1="201.8" x2="414.2" y2="208.4" stroke="#7b7363" stroke-width="3.0"/><line x1="416.8" y1="215.5" x2="419.8" y2="222.6" stroke="#7b7363" stroke-width="3.0"/><polygon points="425.0,234.2 419.4,228.3 425.8,226.1" fill="#7b7363"/>
</svg>
</body>
</html>
